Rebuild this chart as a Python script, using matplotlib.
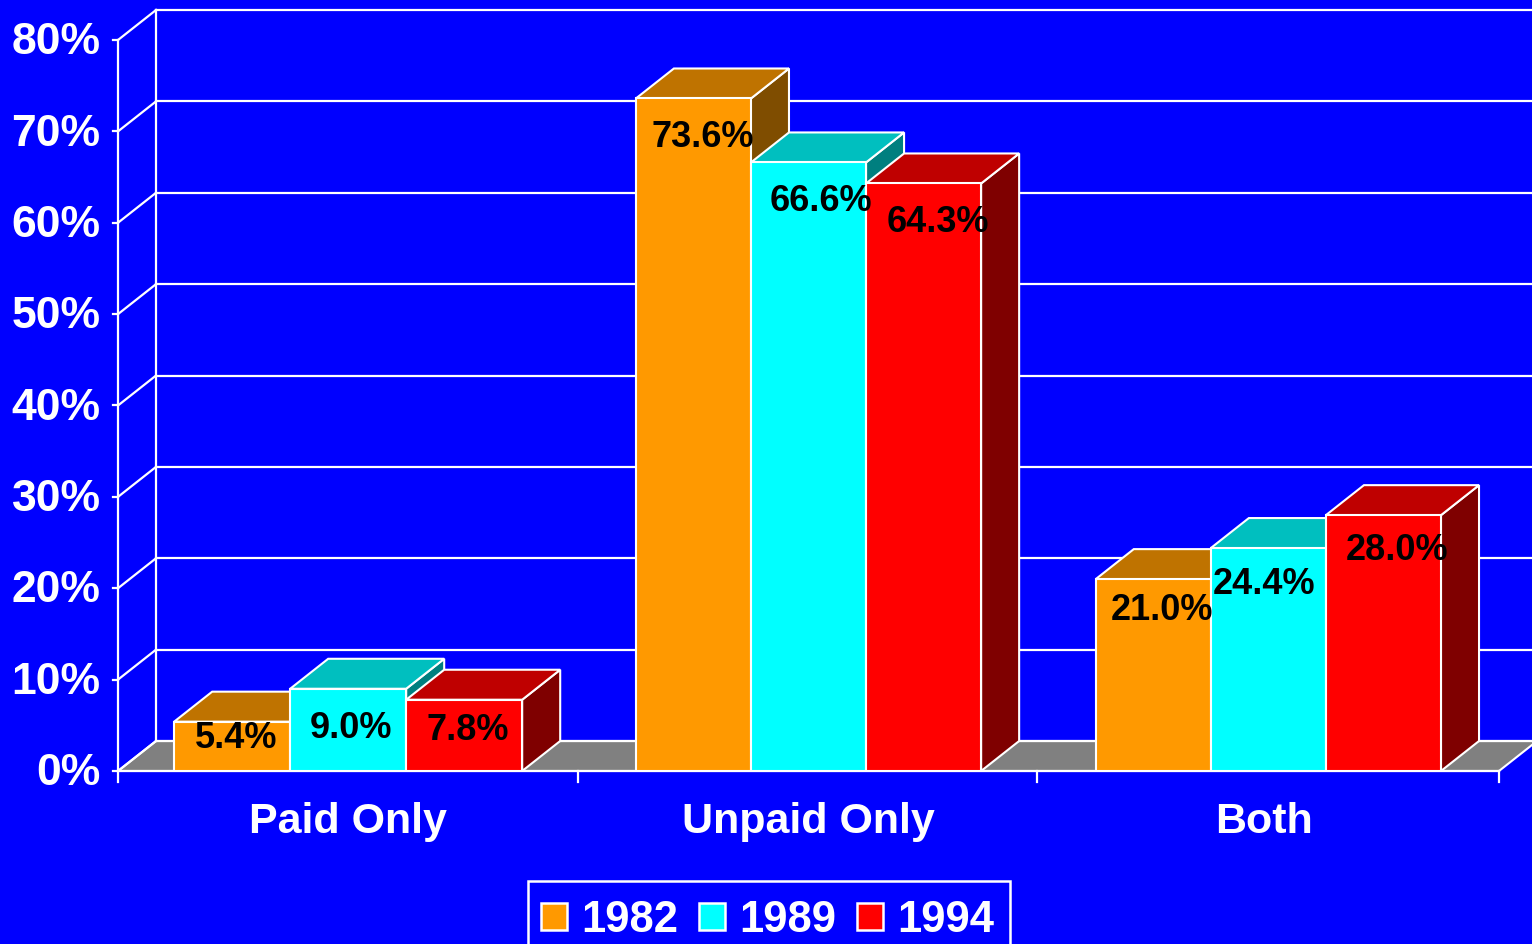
import matplotlib
matplotlib.use("Agg")
import matplotlib.pyplot as plt
from matplotlib.patches import Patch, Polygon, Rectangle

plt.rcParams['font.family'] = ['Liberation Sans', 'DejaVu Sans']
plt.rcParams['font.weight'] = 'bold'

categories = ["Paid Only", "Unpaid Only", "Both"]
years = ["1982", "1989", "1994"]
v1982 = [5.4, 73.6, 21.0]
v1989 = [9.0, 66.6, 24.4]
v1994 = [7.8, 64.3, 28.0]
series = [v1982, v1989, v1994]
yticks = [0, 10, 20, 30, 40, 50, 60, 70, 80]

front = ["#FF9900", "#00FFFF", "#FF0000"]
top = ["#BF7300", "#00BFBF", "#BF0000"]
side = ["#7F4D00", "#007F7F", "#7F0000"]
blue = "#0000FF"

# depth of the fake 3d box, in data units
dx = 38 / 460
dy = 30 / 9.14
lw = 1.6

fig = plt.figure(figsize=(15.32, 9.44), dpi=100, facecolor=blue)
ax = fig.add_axes([118 / 1532, 173 / 944, 1381 / 1532, 731 / 944])
ax.set_xlim(0, 3)
ax.set_ylim(0, 80)
ax.axis("off")

# floor
ax.add_patch(Polygon([(0, 0), (dx, dy), (3 + dx, dy), (3, 0)], closed=True, fc="#808080",
                     ec="white", lw=1.5, clip_on=False, zorder=1))

# walls
for t in yticks:
    ax.plot([0, dx], [t, t + dy], color="white", lw=lw, clip_on=False, zorder=1)
    ax.plot([dx, 3 + dx], [t + dy, t + dy], color="white", lw=lw, clip_on=False, zorder=1)
    ax.plot([-0.011, 0], [t, t], color="white", lw=lw, clip_on=False, zorder=1)
    ax.text(-0.038, t - 0.3, str(t) + "%", color="white", fontsize=32, ha="right", va="center",
            clip_on=False)
ax.plot([0, 0], [0, 80], color="white", lw=lw, clip_on=False, zorder=1)
ax.plot([dx, dx], [dy, 80 + dy], color="white", lw=lw, clip_on=False, zorder=1)
ax.plot([0, 3], [0, 0], color="white", lw=lw, clip_on=False, zorder=1)

# x ticks
for i in [0, 1, 1.996, 3]:
    ax.plot([i, i], [0, -1.2], color="white", lw=lw, clip_on=False, zorder=1)
cat_shift = [0, 0, -5]
for i, c in enumerate(categories):
    ax.annotate(c, (i + 0.5, -5.1), xytext=(cat_shift[i] * 0.72, -3), textcoords="offset points",
                color="white", fontsize=31, ha="center", va="center", annotation_clip=False)

# bars, left to right so the next one covers the side of the last
group_x = [0.122, 1.125, 2.124]
group_w = [0.252, 0.25, 0.25]
z = 2
for i in range(3):
    w = group_w[i]
    for k in range(3):
        v = series[k][i]
        x0 = group_x[i] + k * w
        x1 = x0 + w
        ax.add_patch(Polygon([(x1, 0), (x1 + dx, dy), (x1 + dx, v + dy), (x1, v)], closed=True,
                             fc=side[k], ec="white", lw=1.5, clip_on=False, zorder=z))
        ax.add_patch(Polygon([(x0, v), (x0 + dx, v + dy), (x1 + dx, v + dy), (x1, v)], closed=True,
                             fc=top[k], ec="white", lw=1.5, clip_on=False, zorder=z))
        ax.bar(x0, v, w, align="edge", color=front[k], edgecolor="white", lw=1.5, zorder=z)
        z += 1

# labels sit a bit differently on each bar (pixels from the bar top centre)
drop = [[17, 39, 31], [40, 39, 36], [31, 39, 35]]
shift = [[3, 9, 8], [3, 12, -5], [4, 14, 13]]
for k in range(3):
    for i in range(3):
        v = series[k][i]
        ax.annotate("%.1f%%" % v, (i + 0.25 + k * 0.25, v),
                    xytext=(shift[k][i] * 0.72, -drop[k][i] * 0.72),
                    textcoords="offset points", color="black", fontsize=26, ha="center",
                    va="center", zorder=50, annotation_clip=False)

# legend, box runs off the bottom of the picture
fig.add_artist(Rectangle((528 / 1532, -10 / 944), 482 / 1532, 73 / 944,
                         transform=fig.transFigure, fc=blue, ec="white", lw=1.8))
handles = [Patch(fc=front[k], ec="white", lw=1.8) for k in range(3)]
leg = fig.legend(handles, years, loc="lower left", bbox_to_anchor=(541 / 1532, 3 / 944), ncol=3,
                 fontsize=31.4, frameon=False, labelcolor="white", handlelength=0.6,
                 handleheight=0.6, handletextpad=0.32, columnspacing=0.48, borderpad=0,
                 borderaxespad=0)

fig.savefig("out.png", dpi=100, facecolor=blue)
